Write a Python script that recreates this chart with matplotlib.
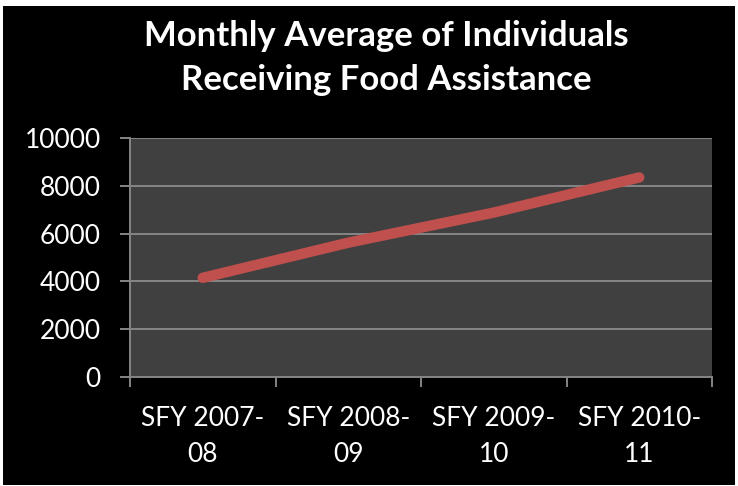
import matplotlib
matplotlib.use("Agg")
import matplotlib.pyplot as plt
from matplotlib.patches import Rectangle

# data
categories = ["SFY 2007-\n08", "SFY 2008-\n09", "SFY 2009-\n10", "SFY 2010-\n11"]
individuals = [4150, 5620, 6880, 8350]
y_ticks = [0, 2000, 4000, 6000, 8000, 10000]

plt.rcParams["font.family"] = ["Lato", "DejaVu Sans"]

fig = plt.figure(figsize=(7.38, 4.86), dpi=100)
fig.patch.set_facecolor("white")
# black chart area inside a thin white frame
fig.patches.append(Rectangle((3 / 738, 1 / 486), 732 / 738, 479 / 486,
                             transform=fig.transFigure, facecolor="black",
                             edgecolor="none", zorder=-5))

ax = fig.add_axes([130 / 738, 109 / 486, 582 / 738, 239 / 486])
ax.set_zorder(1)
ax.set_facecolor("#404040")

x = list(range(len(categories)))
ax.plot(x, individuals, color="#C0504D", linewidth=7.5,
        solid_capstyle="round", solid_joinstyle="round", zorder=3)

ax.set_ylim(0, 10000)
ax.set_yticks(y_ticks)
ax.set_yticklabels([str(v) for v in y_ticks])
ax.yaxis.grid(True, color="#858585", linewidth=1.4)
ax.set_axisbelow(True)

ax.set_xlim(-0.5, len(categories) - 0.5)
ax.set_xticks([i - 0.5 for i in range(len(categories) + 1)])
ax.set_xticklabels([])
ax.set_xticks(x, minor=True)
ax.set_xticklabels(categories, minor=True, linespacing=1.55)

for s in ["top", "right"]:
    ax.spines[s].set_visible(False)
for s in ["left", "bottom"]:
    ax.spines[s].set_color("#858585")
    ax.spines[s].set_linewidth(1.4)

ax.tick_params(axis="y", colors="#858585", length=7, width=1.4, pad=14,
               labelcolor="white", labelsize=19)
ax.tick_params(axis="x", which="major", colors="#858585", length=7, width=1.4)
ax.tick_params(axis="x", which="minor", length=0, pad=21,
               labelcolor="white", labelsize=19)

fig.text(386 / 738, 1 - 58 / 486, "Monthly Average of Individuals\nReceiving Food Assistance",
         ha="center", va="center", color="white", fontsize=25,
         fontweight="bold", linespacing=1.45)

fig.savefig("out.png", dpi=100, facecolor=fig.get_facecolor())
